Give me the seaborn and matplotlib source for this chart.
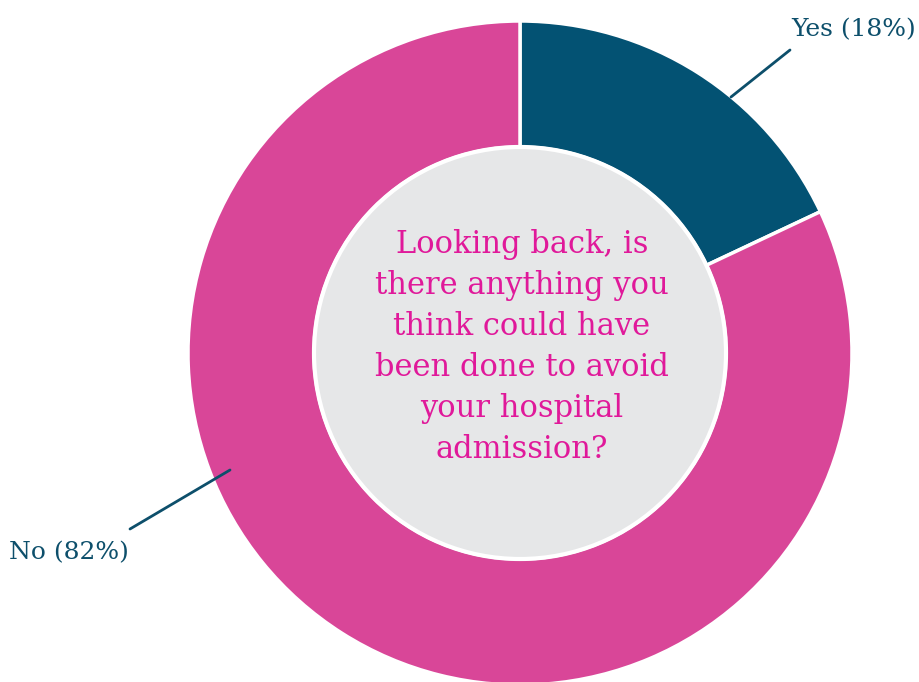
import matplotlib
matplotlib.use("Agg")
import matplotlib.pyplot as plt
import seaborn as sns

# Survey answers
answers = ["Yes", "No"]
shares = [18, 82]
question = "Looking back, is\nthere anything you\nthink could have\nbeen done to avoid\nyour hospital\nadmission?"

sns.set_theme(style="white")
plt.rcParams["font.family"] = ["DejaVu Serif", "DejaVu Sans"]

colors = ["#035273", "#d94698"]
label_color = "#0d4f6b"

fig = plt.figure(figsize=(9.2, 6.82), dpi=100)
ax = fig.add_axes([0, 0, 1, 1])

cx, cy, r = 520, 329, 332
ax.pie(shares, colors=colors, startangle=90, counterclock=False,
       center=(cx, cy), radius=r, frame=True,
       wedgeprops=dict(width=r - 206, edgecolor="white", linewidth=2.5))
ax.set_xlim(0, 920)
ax.set_ylim(0, 682)
ax.set_aspect("equal")
ax.axis("off")

inner = plt.Circle((cx, cy), 206, facecolor="#e6e7e8", edgecolor="white", linewidth=3, zorder=3)
ax.add_patch(inner)

ax.text(cx + 2, cy + 6, question, ha="center", va="center", fontsize=22,
        color="#e0199a", linespacing=1.42, zorder=4)

# leader lines and labels
ax.plot([731, 790], [682 - 97, 682 - 50], color=label_color, lw=2, zorder=5)
ax.text(916, 682 - 30, f"{answers[0]} ({shares[0]}%)", ha="right", va="center",
        fontsize=18, color=label_color)
ax.plot([230, 130], [682 - 470, 682 - 529], color=label_color, lw=2, zorder=5)
ax.text(9, 682 - 553, f"{answers[1]} ({shares[1]}%)", ha="left", va="center",
        fontsize=18, color=label_color)

fig.savefig("out.png", dpi=100)
